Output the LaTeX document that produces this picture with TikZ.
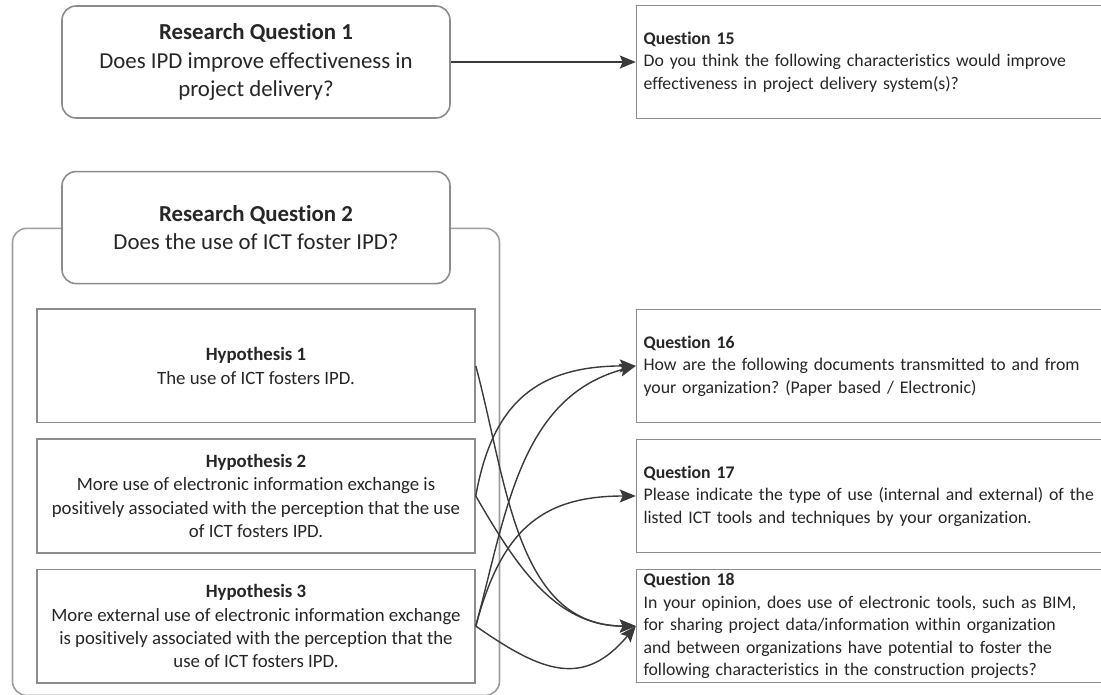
\documentclass[tikz,border=0pt]{standalone}
\usepackage{fontspec}
\setmainfont{Carlito}[Ligatures=NoCommon]
\usepackage{xcolor}
\usetikzlibrary{arrows.meta,positioning,backgrounds}
\definecolor{boxgray}{HTML}{8C8C8C}
\definecolor{linegray}{HTML}{3A3A3A}
\definecolor{textgray}{HTML}{262626}
\frenchspacing

\begin{document}
\begin{tikzpicture}[
      node distance=3.2cm and 3.2cm,
      rqbox/.style={draw=boxgray, rounded corners=8pt, fill=white, align=center,
          minimum width=7.76cm, minimum height=2.24cm, inner sep=0pt,
          line width=0.9pt, text=textgray, font=\fontsize{13}{16}\selectfont},
      hypbox/.style={draw=boxgray, fill=white, align=center,
          minimum width=8.76cm, minimum height=2.27cm, inner sep=0pt,
          line width=0.9pt, text=textgray, font=\fontsize{10.7}{13.2}\selectfont},
      qbox/.style={draw=boxgray, fill=white, align=left, text width=9.8cm,
          minimum height=2.26cm, inner xsep=0.14cm, inner ysep=0pt,
          line width=0.9pt, text=textgray, font=\fontsize{10.1}{12.8}\selectfont},
      groupbox/.style={draw=boxgray!85, rounded corners=8pt, minimum width=9.74cm,
          minimum height=9.34cm, line width=0.9pt},
      arrow/.style={-{Stealth[length=3.2mm, width=2.6mm, inset=0.6mm]},
          line width=0.8pt, draw=linegray}
    ]
    \useasboundingbox (0,0) rectangle (22.02,-13.88);
    \node[rqbox] (rq1) at (5.12,-1.24) {\textbf{Research Question 1}\\Does IPD improve effectiveness in\\project delivery?};
    \node[rqbox, below=1.04cm of rq1] (rq2) {\textbf{Research Question 2}\\Does the use of ICT foster IPD?};
    \begin{scope}[on background layer]
      \node[groupbox, anchor=north] (group) at (rq2.center) {};
    \end{scope}
    \node[hypbox, below=0.48cm of rq2] (h1) {\textbf{Hypothesis 1}\\The use of ICT fosters IPD.};
    \node[hypbox, below=0.3cm of h1] (h2) {\textbf{Hypothesis 2}\\More use of electronic information exchange is\\positively associated with the perception that the use\\of ICT fosters IPD.};
    \node[hypbox, below=0.3cm of h2] (h3) {\textbf{Hypothesis 3}\\More external use of electronic information exchange\\is positively associated with the perception that the\\use of ICT fosters IPD.};
    \node[qbox, right=3.7cm of rq1] (q15) {\textbf{Question 15}\\Do you think the following characteristics would improve\\effectiveness in project delivery system(s)?};
    \node[qbox, right=of h1] (q16) {\textbf{Question 16}\\How are the following documents transmitted to and from\\your organization? (Paper based / Electronic)};
    \node[qbox, right=of h2] (q17) {\textbf{Question 17}\\Please indicate the type of use (internal and external) of the\\listed ICT tools and techniques by your organization.};
    \node[qbox, right=of h3] (q18) {\textbf{Question 18}\\In your opinion, does use of electronic tools, such as BIM,\\for sharing project data/information within organization\\and between organizations have potential to foster the\\following characteristics in the construction projects?};
    \draw[arrow, line width=1.1pt] (rq1) -- (q15);
    \draw[arrow] (h1.east) to[out=-75, in=180] (q18.west);
    \draw[arrow] (h2.east) to[out=80, in=180, looseness=1.2] (q16.west);
    \draw[arrow] (h2.east) to[out=-60, in=180] (q18.west);
    \draw[arrow] (h3.east) to[out=75, in=195] (q16.west);
    \draw[arrow] (h3.east) to[out=75, in=180, looseness=1.2] (q17.west);
    \draw[arrow] (h3.east) to[out=-35, in=-130, looseness=1.3] (q18.west);
  \end{tikzpicture}
\end{document}
